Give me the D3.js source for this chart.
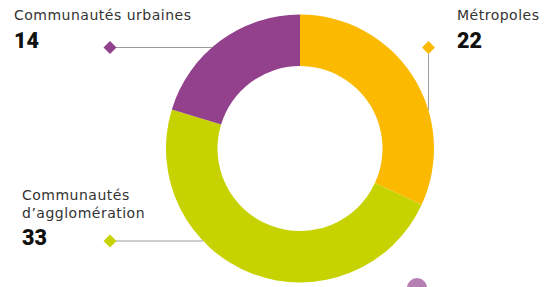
<!DOCTYPE html>
<html>
<head>
<meta charset="utf-8">
<script src="https://cdn.jsdelivr.net/npm/d3@7"></script>
<style>
  html, body { margin: 0; padding: 0; background: #fff; }
  svg { display: block; }
</style>
</head>
<body>
<svg id="chart" width="549" height="287"></svg>
<script>
// ---- Data ----
const categories = ["Métropoles", "Communautés d’agglomération", "Communautés urbaines"];
const values = [22, 33, 14];
const colors = ["#FBB900", "#C7D300", "#93418D"];

// ---- Layout ----
const W = 549, H = 287;
const cx = 300, cy = 148.5;
const outerR = 134, innerR = 82.5;

const svg = d3.select("#chart");

const pie = d3.pie().sort(null).value(d => d.value).startAngle(0).endAngle(2 * Math.PI);
const arc = d3.arc().innerRadius(innerR).outerRadius(outerR);
const data = categories.map((c, i) => ({ name: c, value: values[i], color: colors[i] }));

const g = svg.append("g").attr("transform", `translate(${cx},${cy})`);
g.selectAll("path")
  .data(pie(data))
  .enter().append("path")
  .attr("d", arc)
  .attr("fill", d => d.data.color);

// ---- Leader lines ----
const lineColor = "#9d9d9c";
function xOnCircle(y) { const dy = y - cy; return cx - Math.sqrt(outerR * outerR - dy * dy); }
function yOnCircle(x) { const dx = x - cx; return cy - Math.sqrt(outerR * outerR - dx * dx); }

function diamond(x, y, color) {
  svg.append("rect")
    .attr("x", x - 4.6).attr("y", y - 4.6)
    .attr("width", 9.2).attr("height", 9.2)
    .attr("fill", color)
    .attr("transform", `rotate(45 ${x} ${y})`);
}

// Communautés urbaines
svg.append("line").attr("x1", 110).attr("y1", 47.5).attr("x2", xOnCircle(47.5)).attr("y2", 47.5)
  .attr("stroke", lineColor).attr("stroke-width", 1);
diamond(110, 47.5, colors[2]);

// Communautés d'agglomération
svg.append("line").attr("x1", 110).attr("y1", 241).attr("x2", xOnCircle(241)).attr("y2", 241)
  .attr("stroke", lineColor).attr("stroke-width", 1);
diamond(110, 241, colors[1]);

// Métropoles
svg.append("line").attr("x1", 428.5).attr("y1", 47.5).attr("x2", 428.5).attr("y2", yOnCircle(428.5))
  .attr("stroke", lineColor).attr("stroke-width", 1);
diamond(428.5, 47.5, colors[0]);

// ---- Labels ----
const labelFont = "'DejaVu Sans', sans-serif";
const numFont = "Roboto, 'DejaVu Sans', sans-serif";
const labelColor = "#333332";
const numColor = "#111110";

function label(x, y, txt) {
  svg.append("text").attr("x", x).attr("y", y).text(txt)
    .attr("font-family", labelFont).attr("font-size", 14).attr("letter-spacing", 0.5)
    .attr("fill", labelColor);
}
function num(x, y, v) {
  svg.append("text").attr("x", x).attr("y", y).text(v)
    .attr("font-family", numFont).attr("font-size", 21.5).attr("font-weight", 900)
    .attr("fill", numColor);
}

label(14, 20, "Communautés urbaines");
num(14, 48, values[2]);

label(457, 20, "Métropoles");
num(457, 48, values[0]);

label(22, 200, "Communautés");
label(22, 218, "d’agglomération");
num(22, 245, values[1]);

// decorative dot at bottom
svg.append("circle").attr("cx", 417).attr("cy", 288).attr("r", 10).attr("fill", "#B57FB3");
</script>
</body>
</html>
